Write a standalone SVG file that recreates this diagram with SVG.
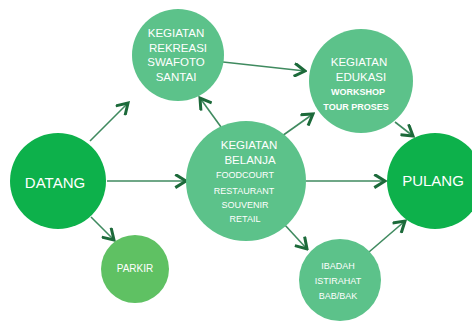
<svg xmlns="http://www.w3.org/2000/svg" width="472" height="323" viewBox="0 0 472 323">
<style>
.main{fill:#0db14b}
.mint{fill:#5cc28a}
.park{fill:#5fc163}
text{fill:#ffffff;font-family:"Liberation Sans",Arial,sans-serif;text-anchor:middle;dominant-baseline:central}
.t1{font-size:11.5px}
.t2{font-size:9px}
.b{font-weight:bold}
.big{font-size:15px}
.conn line{stroke:#3f8a5f;stroke-width:1.6;marker-end:url(#chev)}
</style>
<defs>
<marker id="chev" viewBox="0 0 14 14" refX="12" refY="7" markerWidth="15" markerHeight="15" markerUnits="userSpaceOnUse" orient="auto">
<path d="M2,0.8 L12,7 L2,13.2" fill="none" stroke="#1c6a3a" stroke-width="2.8"/>
</marker>
</defs>
<rect width="472" height="323" fill="#ffffff"/>
<g class="conn">
<line x1="90" y1="141" x2="128" y2="103"/>
<line x1="221" y1="127" x2="200" y2="98"/>
<line x1="223" y1="62" x2="305" y2="71"/>
<line x1="282" y1="136" x2="313" y2="114"/>
<line x1="395" y1="122" x2="413" y2="136"/>
<line x1="107" y1="181" x2="186" y2="181"/>
<line x1="306" y1="181" x2="385" y2="181"/>
<line x1="91" y1="217" x2="114" y2="240"/>
<line x1="284" y1="224" x2="307" y2="249"/>
<line x1="369" y1="252" x2="405" y2="221"/>
</g>
<g id="rekreasi">
<circle class="mint" cx="178" cy="55" r="46"/>
<text class="t1" x="176" y="33">KEGIATAN</text>
<text class="t1" x="178" y="48">REKREASI</text>
<text class="t1" x="176" y="62">SWAFOTO</text>
<text class="t1" x="176" y="77">SANTAI</text>
</g>
<g id="edukasi">
<circle class="mint" cx="361" cy="81" r="52"/>
<text class="t1" x="359" y="62">KEGIATAN</text>
<text class="t1" x="361" y="77">EDUKASI</text>
<text class="t2 b" x="358" y="92">WORKSHOP</text>
<text class="t2 b" x="356" y="107">TOUR PROSES</text>
</g>
<g id="belanja">
<circle class="mint" cx="246" cy="181" r="60"/>
<text class="t1" x="249" y="145">KEGIATAN</text>
<text class="t1" x="250" y="160">BELANJA</text>
<text class="t2" x="245" y="175">FOODCOURT</text>
<text class="t2" x="244" y="191">RESTAURANT</text>
<text class="t2" x="245" y="205">SOUVENIR</text>
<text class="t2" x="245" y="219">RETAIL</text>
</g>
<g id="datang">
<circle class="main" cx="58" cy="181" r="48"/>
<text class="big" x="55" y="182">DATANG</text>
</g>
<g id="parkir">
<circle class="park" cx="135" cy="269" r="34"/>
<text style="font-size:10px" x="135" y="268">PARKIR</text>
</g>
<g id="pulang">
<circle class="main" cx="435" cy="181" r="48"/>
<text class="big" x="433" y="180">PULANG</text>
</g>
<g id="ibadah">
<circle class="mint" cx="340" cy="280" r="41"/>
<text class="t2" x="338" y="266">IBADAH</text>
<text class="t2" x="338" y="281">ISTIRAHAT</text>
<text class="t2" x="338" y="296">BAB/BAK</text>
</g>
</svg>
